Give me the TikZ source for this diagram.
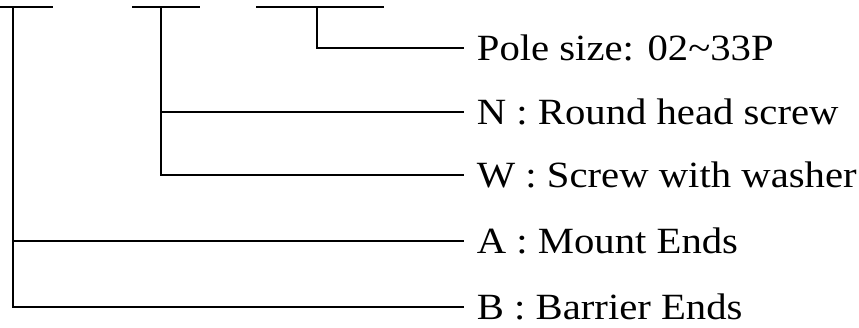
\documentclass[tikz,border=0pt]{standalone}
\usepackage{fontspec}
\setmainfont{Liberation Serif}[FakeStretch=1.1]
\begin{document}
\begin{tikzpicture}[x=1pt,y=1pt,line width=1.8pt,
        code/.style={anchor=west,inner xsep=12pt,inner ysep=0pt,
                     text height=24pt,text depth=0pt,
                     font=\fontsize{37}{44}\selectfont}]
    \useasboundingbox (0,0) rectangle (859,-327);

    % Code fields
    \draw (0,-6.7) -- (53,-6.7);
    \draw (132,-6.7) -- (200,-6.7);
    \draw (256,-6.7) -- (384,-6.7);
    \coordinate (f1) at (12.7,-6.7);
    \coordinate (f2) at (160.7,-6.7);
    \coordinate (f3) at (316.7,-6.7);

    % Labels
    \node[code] (pole)    at (464,-48)  {Pole size: 02\textasciitilde33P};
    \node[code] (round)   at (464,-112) {N : Round head screw};
    \node[code] (washer)  at (464,-175) {W : Screw with washer};
    \node[code] (mount)   at (464,-241) {A : Mount Ends};
    \node[code] (barrier) at (464,-307) {B : Barrier Ends};

    % Leaders
    \draw (f3) |- (pole.west);
    \draw (f2) |- (round.west);
    \draw (f2) |- (washer.west);
    \draw (f1) |- (mount.west);
    \draw (f1) |- (barrier.west);
\end{tikzpicture}
\end{document}
